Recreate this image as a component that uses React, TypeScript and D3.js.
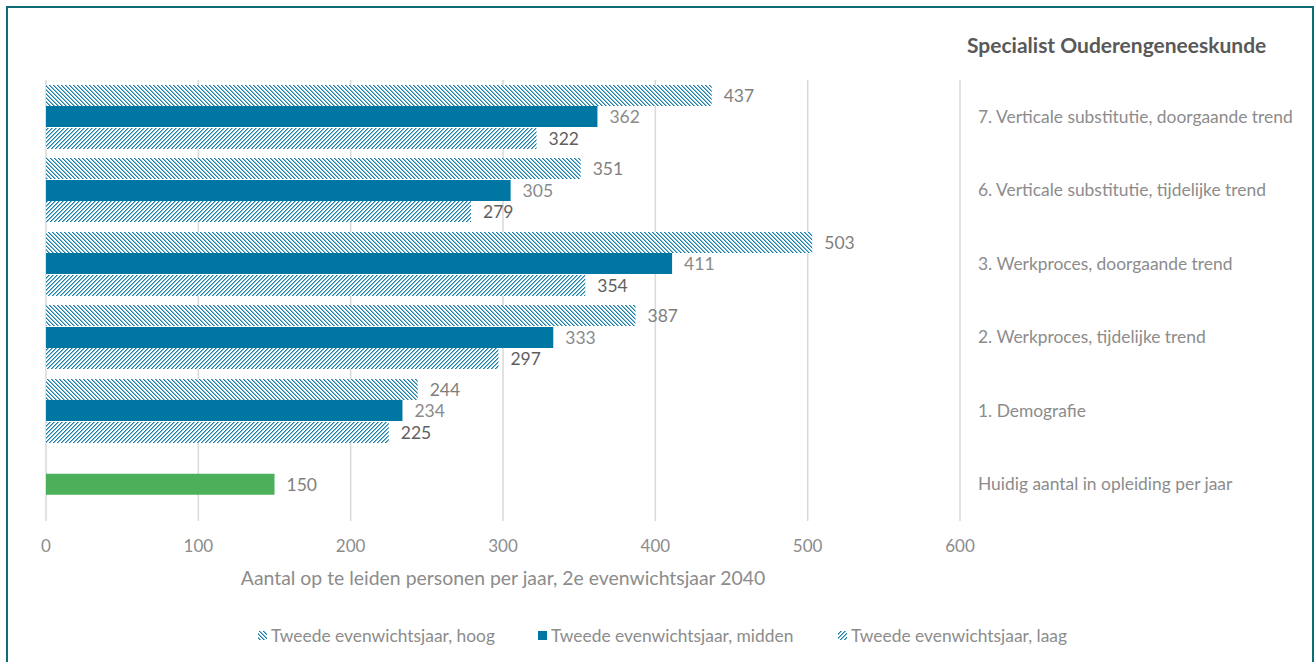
import React from "react";
import * as d3 from "d3";

const categories = [
  "7. Verticale substitutie, doorgaande trend",
  "6. Verticale substitutie, tijdelijke trend",
  "3. Werkproces, doorgaande trend",
  "2. Werkproces, tijdelijke trend",
  "1. Demografie",
  "Huidig aantal in opleiding per jaar",
];
const hoog = [437, 351, 503, 387, 244];
const midden = [362, 305, 411, 333, 234];
const laag = [322, 279, 354, 297, 225];
const huidig = 150;
const xTicks = [0, 100, 200, 300, 400, 500, 600];
const legendLabels = [
  "Tweede evenwichtsjaar, hoog",
  "Tweede evenwichtsjaar, midden",
  "Tweede evenwichtsjaar, laag",
];
const title = "Specialist Ouderengeneeskunde";
const axisTitle = "Aantal op te leiden personen per jaar, 2e evenwichtsjaar 2040";

const BLUE = "#0077a3";
const HATCH = "#1a80aa";
const GREEN = "#4caf5a";
const FONT = "Lato, 'Open Sans', sans-serif";
const DIAG = [0, 1, 2, 3];

export default function App() {
  const x = d3.scaleLinear().domain([0, 600]).range([46, 960]);
  const y = d3.scaleBand().domain(categories).range([80, 521]).padding(0);
  const barH = 21;
  const step = 21.5;
  const series = [
    { vals: hoog, fill: "url(#hatchDown)", labelColor: "#7f7f7f" },
    { vals: midden, fill: BLUE, labelColor: "#8a8a8a" },
    { vals: laag, fill: "url(#hatchUp)", labelColor: "#5f5f5f" },
  ];
  const center = (c: string) => (y(c) as number) + y.bandwidth() / 2;

  return (
    <svg
      width={1316}
      height={662}
      style={{ position: "absolute", left: 0, top: 0, display: "block", background: "#fff" }}
      fontFamily={FONT}
    >
      <defs>
        <pattern id="hatchDown" patternUnits="userSpaceOnUse" x={0} y={0} width={4} height={4}>
          <rect width={4} height={4} fill="#fff" />
          {DIAG.map((i) => (
            <g key={i} shapeRendering="crispEdges">
              <rect x={i} y={i} width={1} height={1} fill={HATCH} />
              <rect x={(i + 1) % 4} y={i} width={1} height={1} fill={HATCH} opacity={0.55} />
            </g>
          ))}
        </pattern>
        <pattern id="hatchUp" patternUnits="userSpaceOnUse" x={0} y={0} width={4} height={4}>
          <rect width={4} height={4} fill="#fff" />
          {DIAG.map((i) => (
            <g key={i} shapeRendering="crispEdges">
              <rect x={3 - i} y={i} width={1} height={1} fill={HATCH} />
              <rect x={(4 - i) % 4} y={i} width={1} height={1} fill={HATCH} opacity={0.55} />
            </g>
          ))}
        </pattern>
      </defs>

      <rect x={7} y={7} width={1306} height={670} fill="#fff" stroke="#0e6c76" strokeWidth={2} />

      {/* gridlines */}
      {xTicks.map((t) => (
        <line key={t} x1={x(t)} x2={x(t)} y1={80} y2={521} stroke="#d9d9d9" strokeWidth={1.5} />
      ))}

      {/* bars */}
      {categories.slice(0, 5).map((c, ci) => (
        <g key={c}>
          {series.map((s, si) => {
            const top = Math.round(center(c) + (si - 1) * step - barH / 2);
            const v = s.vals[ci];
            return (
              <g key={si}>
                <rect x={x(0)} y={top} width={x(v) - x(0)} height={barH} fill={s.fill} />
                <text
                  x={x(v) + 12}
                  y={top + barH / 2 + 0.5}
                  dy="0.35em"
                  fontSize={17.5}
                  fill={s.labelColor}
                >
                  {v}
                </text>
              </g>
            );
          })}
        </g>
      ))}
      <rect
        x={x(0)}
        y={center(categories[5]) - barH / 2}
        width={x(huidig) - x(0)}
        height={barH}
        fill={GREEN}
      />
      <text x={x(huidig) + 12} y={center(categories[5]) + 0.5} dy="0.35em" fontSize={17.5} fill="#7f7f7f">
        {huidig}
      </text>

      {/* category labels */}
      {categories.map((c) => (
        <text key={c} x={978} y={center(c)} dy="0.35em" fontSize={17.4} fill="#8c8c8c">
          {c}
        </text>
      ))}

      <text x={967} y={46} dy="0.35em" fontSize={21} fontWeight="bold" fill="#595959">
        {title}
      </text>

      {/* x tick labels */}
      {xTicks.map((t) => (
        <text key={t} x={x(t)} y={546} dy="0.35em" textAnchor="middle" fontSize={17} fill="#8c8c8c">
          {t}
        </text>
      ))}

      <text x={503} y={578} dy="0.35em" textAnchor="middle" fontSize={19.4} fill="#8c8c8c">
        {axisTitle}
      </text>

      {/* legend */}
      {legendLabels.map((l, i) => {
        const lx = [258, 538, 838][i];
        const fill = ["url(#hatchDown)", BLUE, "url(#hatchUp)"][i];
        return (
          <g key={l}>
            <rect x={lx} y={631} width={9} height={9} fill={fill} />
            <text x={lx + 13} y={636} dy="0.35em" fontSize={17.4} fill="#8c8c8c">
              {l}
            </text>
          </g>
        );
      })}
    </svg>
  );
}
